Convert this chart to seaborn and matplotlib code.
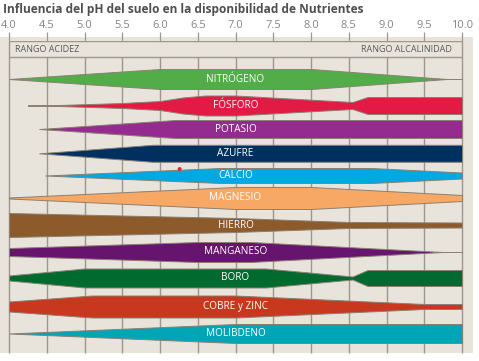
import numpy as np
import matplotlib
matplotlib.use("Agg")
import matplotlib.pyplot as plt
import matplotlib.patches as patches
import seaborn as sns

# pH axis
ph_ticks = [4.0, 4.5, 5.0, 5.5, 6.0, 6.5, 7.0, 7.5, 8.0, 8.5, 9.0, 9.5, 10.0]
tick_labels = ["4.0", "4.5", "5.0", "5.5", "6.0", "6.5", "7.0", "7.5", "8.0", "8.5", "9.0", "9.5", "10.0"]

# nutrient names and colours
nutrientes = ["NITRÓGENO", "FÓSFORO", "POTASIO", "AZUFRE", "CALCIO", "MAGNESIO",
              "HIERRO", "MANGANESO", "BORO", "COBRE y ZINC", "MOLIBDENO"]
colores = ["#52ad48", "#e31a43", "#952b8f", "#00305f", "#00a9e2", "#f7a865",
           "#8d5a2b", "#67146e", "#006a2f", "#c8381e", "#00a6b6"]

# availability (band half-thickness) read at pH points for each nutrient
nitrogeno_ph = [4.0, 6.0, 8.0, 9.8, 10.0]
nitrogeno_w = [0, 10, 10, 0, 0]
fosforo_ph = [4.25, 4.45, 5.5, 6.0, 6.3, 6.6, 7.0, 8.55, 8.75, 10.0]
fosforo_w = [0, 0, 2.5, 4.5, 8, 10, 10, 3.5, 8.5, 8.5]
potasio_ph = [4.4, 6.2, 10.0]
potasio_w = [0, 9, 9]
azufre_ph = [4.4, 5.9, 10.0]
azufre_w = [0, 8.5, 8.5]
calcio_ph = [4.48, 6.8, 8.8, 10.0]
calcio_w = [0, 7.5, 7.5, 3]
magnesio_ph = [4.0, 7.0, 8.0, 10.0]
magnesio_w = [0.5, 11, 11, 3]
hierro_ph = [4.0, 7.0, 8.5, 10.0]
hierro_w = [12, 7, 3, 2.5]
manganeso_ph = [4.0, 6.5, 7.2, 9.75, 10.0]
manganeso_w = [4, 10, 10, 0, 0]
boro_ph = [4.0, 5.0, 7.4, 8.55, 8.75, 10.0]
boro_w = [2.5, 9.5, 9.5, 1.5, 8, 8]
cobre_ph = [4.0, 5.1, 7.0, 9.5, 10.0]
cobre_w = [5, 11, 11, 2.5, 2.5]
molibdeno_ph = [4.0, 7.0, 10.0]
molibdeno_w = [0, 9.5, 9.5]

# stray red dot in the source image
punto_ph = [6.26]
punto_y = [169]

perfiles_ph = [nitrogeno_ph, fosforo_ph, potasio_ph, azufre_ph, calcio_ph, magnesio_ph,
               hierro_ph, manganeso_ph, boro_ph, cobre_ph, molibdeno_ph]
perfiles_w = [nitrogeno_w, fosforo_w, potasio_w, azufre_w, calcio_w, magnesio_w,
              hierro_w, manganeso_w, boro_w, cobre_w, molibdeno_w]

# layout (pixel rows of band centres)
centros = [79, 105.5, 129, 153.3, 175.5, 198, 225, 252, 278, 306.5, 333.5]

sns.set_theme(style="white")
plt.rcParams["font.family"] = ["Open Sans", "DejaVu Sans"]

beige = "#e8e4dc"
grid_color = "#a0968a"
edge_color = "#8a8072"
px_per_ph = 75.5
x_left = 4.0 - 9 / px_per_ph
x_right = 4.0 + (479 - 9) / px_per_ph

fig = plt.figure(figsize=(4.79, 3.61), dpi=100)
fig.patch.set_facecolor("white")
ax = fig.add_axes([0, 0, 1, 320 / 361])
ax.set_xlim(x_left, x_right)
ax.set_ylim(361, 41)
ax.set_facecolor("none")
for s in ax.spines.values():
    s.set_visible(False)

# background panel
ax.add_patch(patches.Rectangle((x_left, 37), (473) / px_per_ph, 316,
                               facecolor=beige, edgecolor="none", zorder=0, clip_on=False))

# header row and grid
ax.hlines([41, 57], 4.0, 10.0, color=grid_color, lw=1.0, zorder=1)
ax.vlines([4.0, 10.0], 41, 353, color=grid_color, lw=1.0, zorder=1)
ax.vlines(ph_ticks[1:-1], 57, 353, color=grid_color, lw=1.0, zorder=1)
ax.text(4.08, 49, "RANGO ACIDEZ", ha="left", va="center", fontsize=6.5, color="#5a5a5a")
ax.text(9.87, 49, "RANGO ALCALINIDAD", ha="right", va="center", fontsize=6.5, color="#5a5a5a")

# ticks on top
ax.xaxis.tick_top()
ax.set_xticks(ph_ticks)
ax.set_xticklabels(tick_labels)
ax.tick_params(axis="x", length=6.5, width=0.9, color=grid_color, pad=1.0,
               labelsize=8, labelcolor="#858585")
ax.set_yticks([])

# bands
for name, col, ph, w, c in zip(nutrientes, colores, perfiles_ph, perfiles_w, centros):
    ph = np.array(ph)
    w = np.array(w, dtype=float)
    ax.fill_between(ph, c - w, c + w, facecolor=col, edgecolor=edge_color, lw=0.7, zorder=3)
    ax.text(7.0, c, name, ha="center", va="center", color="white", fontsize=7.2, zorder=4)

sns.scatterplot(x=punto_ph, y=punto_y, color="#e8202a", s=8, edgecolor="none", ax=ax, zorder=5)

fig.text(3 / 479, 1 - 9 / 361, "Influencia del pH del suelo en la disponibilidad de Nutrientes",
         ha="left", va="center", fontsize=8.6, fontweight="bold", color="#4f4f4f")

fig.savefig("out.png", dpi=100)
